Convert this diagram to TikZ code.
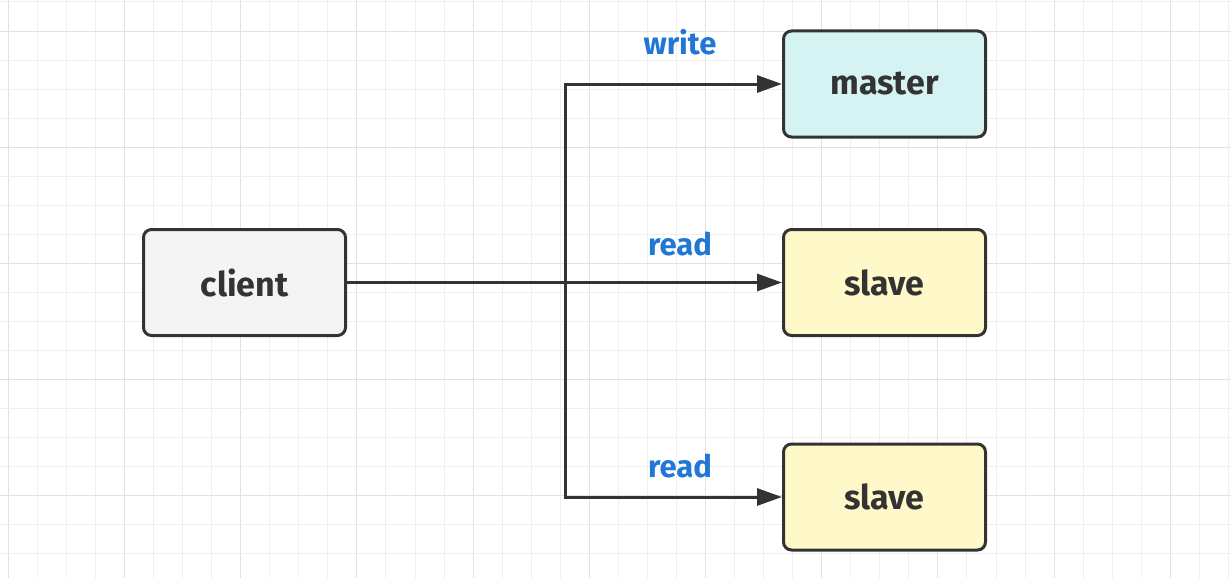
\documentclass[tikz,border=0pt]{standalone}
\usepackage{fontspec}
\setmainfont{Fira Sans}
\usetikzlibrary{arrows.meta}
\definecolor{ink}{HTML}{333333}
\definecolor{gridminor}{HTML}{EFEFEF}
\definecolor{gridmajor}{HTML}{E2E2E2}
\definecolor{clientfill}{HTML}{F4F4F4}
\definecolor{masterfill}{HTML}{D5F3F3}
\definecolor{slavefill}{HTML}{FFF9C9}
\definecolor{labelblue}{HTML}{2277D6}
\begin{document}
\begin{tikzpicture}[x=1pt,y=-1pt,
  box/.style={draw=ink, line width=3pt, rounded corners=8pt, minimum width=202pt, minimum height=106pt, inner sep=0pt, font=\fontsize{34}{38}\selectfont\bfseries, text=ink},
  conn/.style={draw=ink, line width=3pt, -{Triangle[length=25pt,width=17pt]}},
  lbl/.style={font=\fontsize{31}{34}\selectfont\bfseries, text=labelblue, inner sep=0pt}]
\path[use as bounding box, fill=white] (0,0) rectangle (1231,578);
\foreach \i in {0,...,42} {
  \pgfmathsetmacro{\xx}{8.3+29.05*\i}
  \pgfmathtruncatemacro{\m}{mod(\i,4)}
  \ifnum\m=0 \draw[gridmajor, line width=1pt] (\xx,0) -- (\xx,578);
  \else \draw[gridminor, line width=1pt] (\xx,0) -- (\xx,578); \fi
}
\foreach \i in {0,...,19} {
  \pgfmathsetmacro{\yy}{2+29.05*\i}
  \pgfmathtruncatemacro{\m}{mod(\i,4)}
  \ifnum\m=1 \draw[gridmajor, line width=1pt] (0,\yy) -- (1231,\yy);
  \else \draw[gridminor, line width=1pt] (0,\yy) -- (1231,\yy); \fi
}
\node[box, fill=clientfill] (client) at (244.5,282.5) {client};
\node[box, fill=masterfill] (master) at (884.5,84) {master};
\node[box, fill=slavefill] (slave1) at (884.5,282.5) {slave};
\node[box, fill=slavefill] (slave2) at (884.5,497) {slave};
\coordinate (j) at (565,282.5);
\draw[conn] (client.east) -- (slave1.west);
\draw[conn] (j) |- (master.west);
\draw[conn] (j) |- (slave2.west);
\node[lbl] (lw) at (680,42) {write};
\node[lbl] (lr1) at (680,244) {read};
\node[lbl] (lr2) at (680,466) {read};
\end{tikzpicture}
\end{document}
